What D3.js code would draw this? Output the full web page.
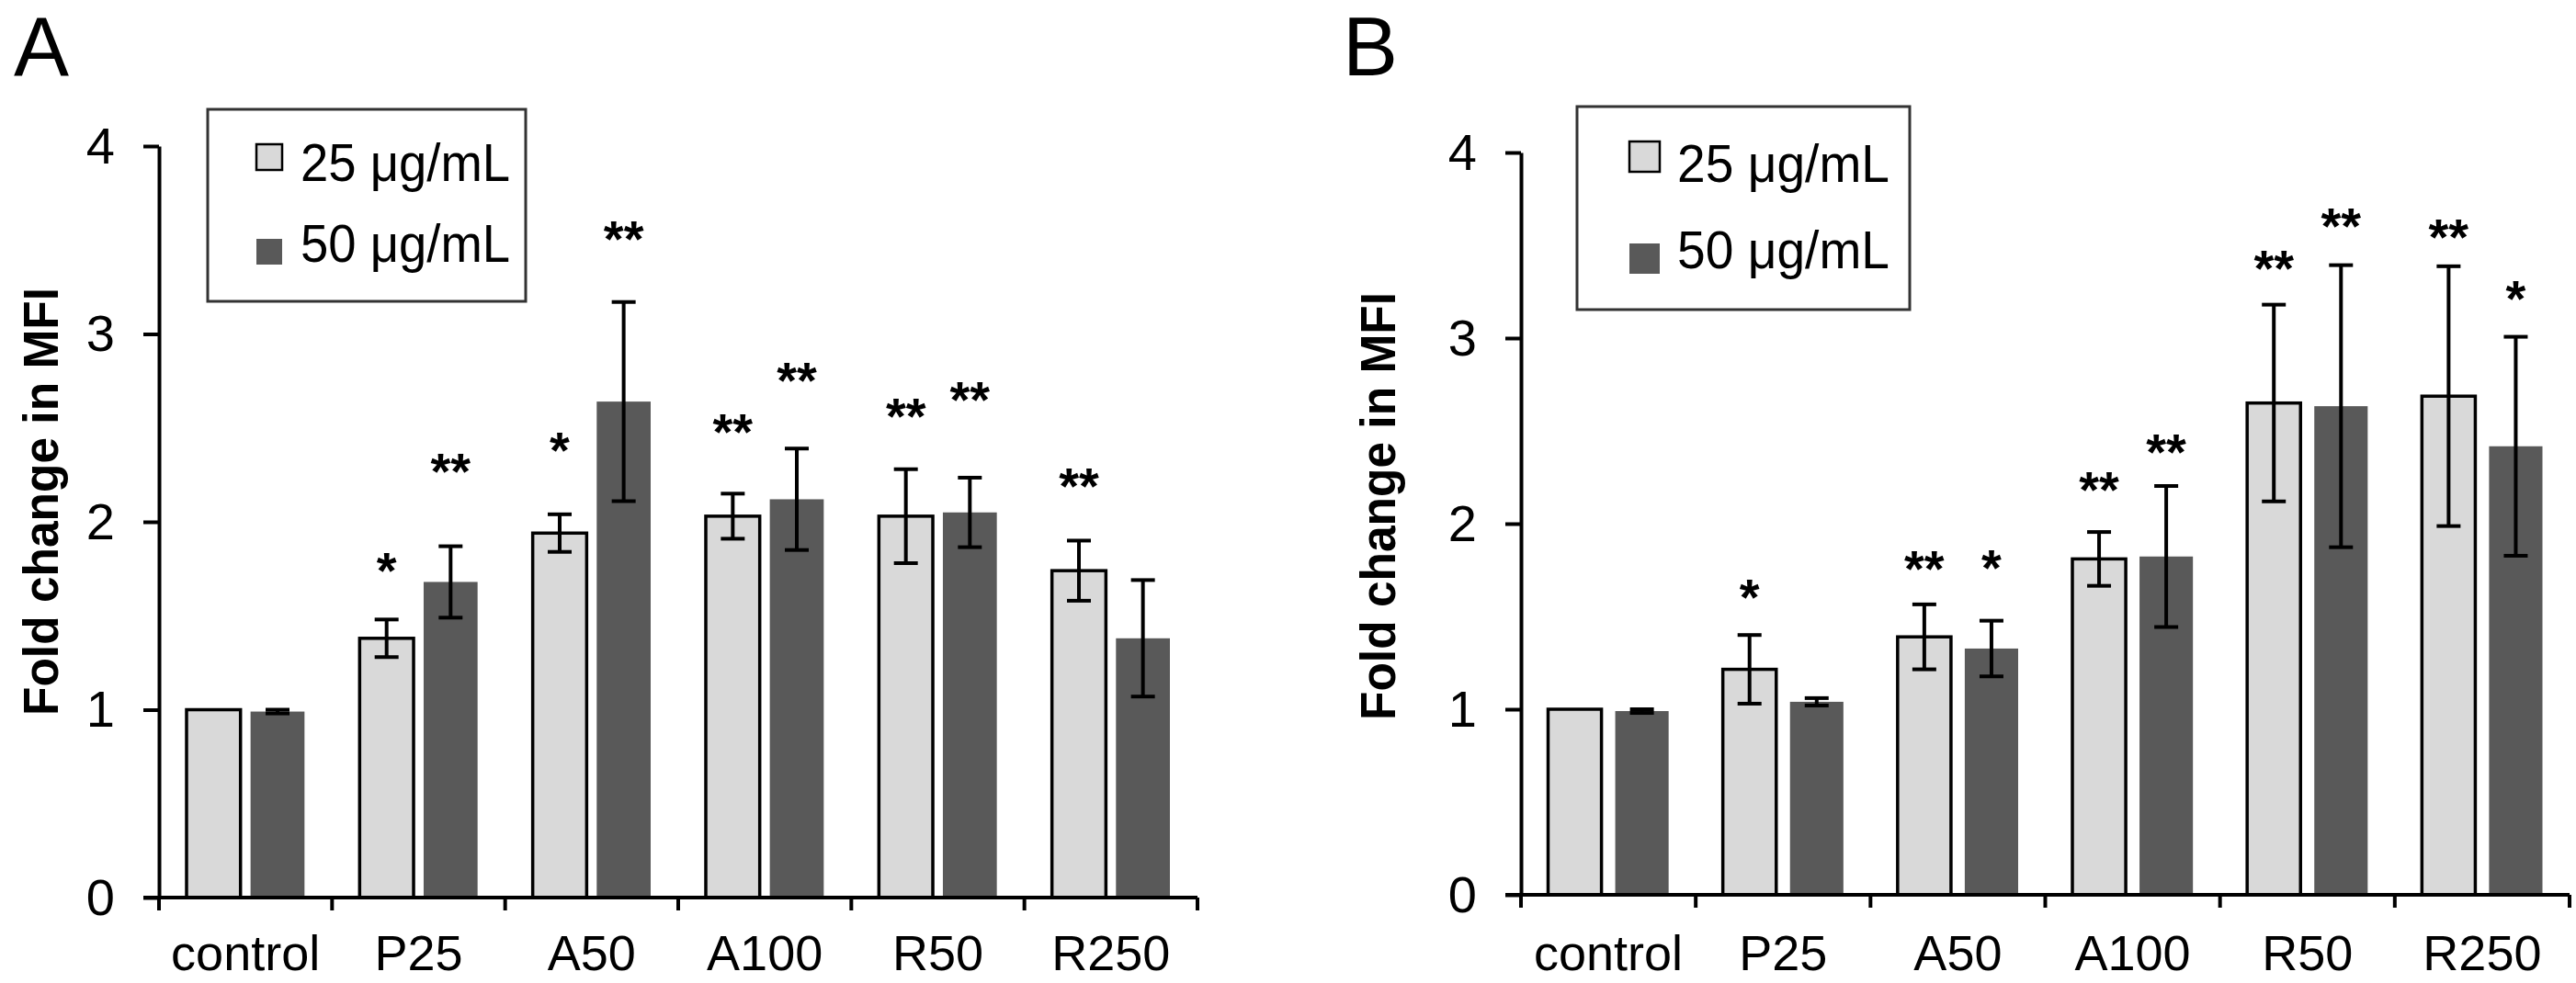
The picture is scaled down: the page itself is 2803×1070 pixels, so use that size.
<!DOCTYPE html>
<html>
<head>
<meta charset="utf-8">
<script src="https://cdn.jsdelivr.net/npm/d3@7"></script>
<style>
  body { margin: 0; background: #fff; }
  text { font-family: "Liberation Sans", Arial, sans-serif; fill: #000; }
</style>
</head>
<body>
<div id="fig"></div>
<script>
// ---- data ----
var categories = ["control", "P25", "A50", "A100", "R50", "R250"];
var seriesNames = ["25 μg/mL", "50 μg/mL"];
var yTicks = [0, 1, 2, 3, 4];

// panel A
var meansA25 = [1.00, 1.38, 1.94, 2.03, 2.03, 1.74];
var errA25   = [0, 0.10, 0.10, 0.12, 0.25, 0.16];
var meansA50 = [0.99, 1.68, 2.64, 2.12, 2.05, 1.38];
var errA50   = [0.01, 0.19, 0.53, 0.27, 0.185, 0.31];
var starsA25 = ["", "*", "*", "**", "**", "**"];
var starPosA25 = [null, 1.80, 2.44, 2.54, 2.62, 2.25];
var starsA50 = ["", "**", "**", "**", "**", ""];
var starPosA50 = [null, 2.33, 3.565, 2.81, 2.71, null];

// panel B
var meansB25 = [1.00, 1.215, 1.39, 1.81, 2.65, 2.687];
var errB25   = [0, 0.185, 0.175, 0.145, 0.53, 0.70];
var meansB50 = [0.99, 1.04, 1.327, 1.823, 2.633, 2.417];
var errB50   = [0.01, 0.02, 0.15, 0.38, 0.76, 0.59];
var starsB25 = ["", "*", "**", "**", "**", "**"];
var starPosB25 = [null, 1.664, 1.816, 2.243, 3.436, 3.605];
var starsB50 = ["", "", "*", "**", "**", "*"];
var starPosB50 = [null, null, 1.823, 2.446, 3.662, 3.274];

var lightColor = "#d9d9d9";
var darkColor = "#595959";
var lineW = 4;

var svg = d3.select("#fig").append("svg")
    .attr("width", 2803)
    .attr("height", 1070);

function drawPanel(p) {
    var g = svg.append("g");

    var x = d3.scaleBand()
        .domain(categories)
        .range([p.left, p.right]);
    var xs = d3.scaleBand()
        .domain(seriesNames)
        .range([p.pad, x.bandwidth() - p.pad])
        .paddingInner(p.inner);
    var y = d3.scaleLinear()
        .domain([0, 4])
        .range([p.bottom, p.top]);

    // panel letter
    g.append("text")
        .attr("x", p.letterX)
        .attr("y", 82)
        .style("font-size", "90px")
        .text(p.letter);

    // bars
    var rows = [];
    categories.forEach(function (c, i) {
        rows.push({cat: c, s: seriesNames[0], v: p.m25[i], e: p.e25[i], star: p.s25[i], sp: p.sp25[i]});
        rows.push({cat: c, s: seriesNames[1], v: p.m50[i], e: p.e50[i], star: p.s50[i], sp: p.sp50[i]});
    });

    g.selectAll(".bar")
        .data(rows)
        .enter().append("rect")
        .attr("class", "bar")
        .attr("x", d => x(d.cat) + xs(d.s))
        .attr("width", xs.bandwidth())
        .attr("y", d => y(d.v))
        .attr("height", d => y(0) - y(d.v))
        .style("fill", d => d.s === seriesNames[0] ? lightColor : darkColor)
        .style("stroke", d => d.s === seriesNames[0] ? "#000" : "none")
        .style("stroke-width", 3.5);

    // error bars
    var eb = g.selectAll(".err")
        .data(rows.filter(d => d.e > 0))
        .enter().append("g")
        .attr("class", "err")
        .attr("transform", d => "translate(" + (x(d.cat) + xs(d.s) + xs.bandwidth() / 2) + ",0)");
    eb.append("line")
        .attr("y1", d => y(d.v - d.e))
        .attr("y2", d => y(d.v + d.e))
        .style("stroke", "#000").style("stroke-width", lineW);
    eb.append("line")
        .attr("x1", -13).attr("x2", 13)
        .attr("y1", d => y(d.v + d.e)).attr("y2", d => y(d.v + d.e))
        .style("stroke", "#000").style("stroke-width", lineW);
    eb.append("line")
        .attr("x1", -13).attr("x2", 13)
        .attr("y1", d => y(d.v - d.e)).attr("y2", d => y(d.v - d.e))
        .style("stroke", "#000").style("stroke-width", lineW);

    // significance stars
    g.selectAll(".star")
        .data(rows.filter(d => d.star !== ""))
        .enter().append("text")
        .attr("class", "star")
        .attr("x", d => x(d.cat) + xs(d.s) + xs.bandwidth() / 2)
        .attr("y", d => y(d.sp) + 31)
        .attr("text-anchor", "middle")
        .style("font-size", "56px")
        .style("font-weight", "bold")
        .text(d => d.star);

    // y axis
    var yAxis = d3.axisLeft(y)
        .tickValues(yTicks)
        .tickFormat(d3.format("d"))
        .tickSize(17).tickSizeOuter(0).tickPadding(31);
    var ya = g.append("g")
        .attr("transform", "translate(" + p.left + ",0)")
        .call(yAxis);
    ya.select(".domain").style("stroke", "#000").style("stroke-width", lineW);
    ya.selectAll(".tick line").style("stroke", "#000").style("stroke-width", lineW);
    ya.selectAll(".tick text")
        .attr("dy", null)
        .attr("y", 18)
        .style("font-size", "56px")
        .style("font-family", "Liberation Sans, Arial, sans-serif");

    // x axis (labels at centres, ticks at category boundaries)
    var xAxis = d3.axisBottom(x).tickSize(0).tickPadding(0);
    var xa = g.append("g")
        .attr("transform", "translate(0," + p.bottom + ")")
        .call(xAxis);
    xa.select(".domain").remove();
    xa.selectAll(".tick text")
        .attr("dy", null)
        .attr("y", 1056 - p.bottom)
        .style("font-size", "54px")
        .style("font-family", "Liberation Sans, Arial, sans-serif");

    g.append("line")
        .attr("x1", p.left - 17).attr("x2", p.right)
        .attr("y1", p.bottom).attr("y2", p.bottom)
        .style("stroke", "#000").style("stroke-width", lineW);
    var bounds = categories.map(c => x(c)).concat([p.right]);
    g.selectAll(".xtick")
        .data(bounds)
        .enter().append("line")
        .attr("class", "xtick")
        .attr("x1", d => d).attr("x2", d => d)
        .attr("y1", p.bottom).attr("y2", p.bottom + 14)
        .style("stroke", "#000").style("stroke-width", lineW);

    // y axis title
    g.append("text")
        .attr("transform", "translate(" + p.titleX + "," + p.titleY + ") rotate(-90)")
        .attr("text-anchor", "middle")
        .attr("textLength", 466)
        .attr("lengthAdjust", "spacingAndGlyphs")
        .style("font-size", "54px")
        .style("font-weight", "bold")
        .text("Fold change in MFI");

    // legend
    var lg = g.append("g");
    lg.append("rect")
        .attr("x", p.lx).attr("y", p.ly)
        .attr("width", p.lw).attr("height", p.lh)
        .style("fill", "#fff").style("stroke", "#333").style("stroke-width", 3);
    seriesNames.forEach(function (s, i) {
        lg.append("rect")
            .attr("x", p.sx).attr("y", p.sy[i])
            .attr("width", p.ss).attr("height", p.ss)
            .style("fill", i === 0 ? lightColor : darkColor)
            .style("stroke", i === 0 ? "#000" : "none")
            .style("stroke-width", 2.5);
        lg.append("text")
            .attr("x", p.tx).attr("y", p.ty[i])
            .attr("textLength", p.tw)
            .attr("lengthAdjust", "spacingAndGlyphs")
            .style("font-size", "58px")
            .text(s);
    });
}

drawPanel({
    letter: "A", letterX: 15,
    left: 173, right: 1303, top: 159, bottom: 977, pad: 30, inner: 0.157,
    m25: meansA25, e25: errA25, m50: meansA50, e50: errA50,
    s25: starsA25, sp25: starPosA25, s50: starsA50, sp50: starPosA50,
    titleX: 63, titleY: 546,
    lx: 226, ly: 119, lw: 346, lh: 209,
    sx: 279, sy: [157, 260], ss: 28, tx: 327, ty: [197, 285], tw: 228
});

drawPanel({
    letter: "B", letterX: 1461,
    left: 1655, right: 2796, top: 166, bottom: 974, pad: 29.5, inner: 0.205,
    m25: meansB25, e25: errB25, m50: meansB50, e50: errB50,
    s25: starsB25, sp25: starPosB25, s50: starsB50, sp50: starPosB50,
    titleX: 1518, titleY: 551,
    lx: 1716, ly: 116, lw: 362, lh: 221,
    sx: 1773, sy: [154, 265], ss: 33, tx: 1825, ty: [198, 292], tw: 231
});
</script>
</body>
</html>
